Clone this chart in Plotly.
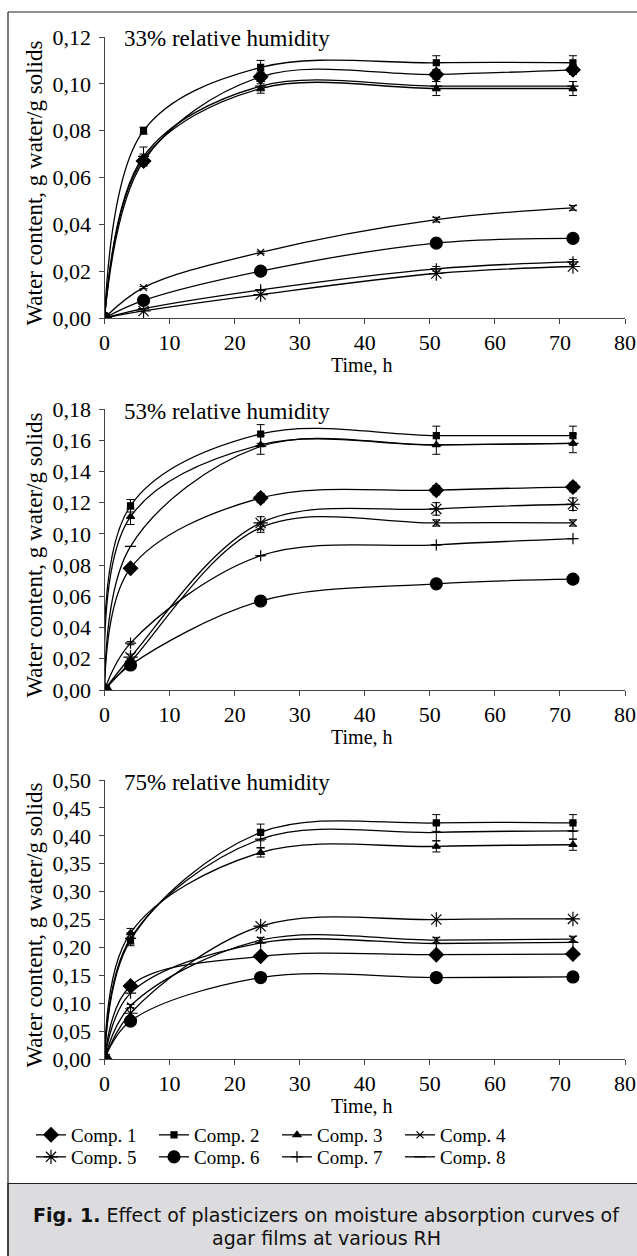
import plotly.graph_objects as go

W, H = 637, 1256

comps = ["Comp. 1", "Comp. 2", "Comp. 3", "Comp. 4", "Comp. 5", "Comp. 6", "Comp. 7", "Comp. 8"]

# ---- 33% RH ----
t33 = [0, 6, 24, 51, 72]
rh33 = [
    [0, 0.067, 0.103, 0.104, 0.106],
    [0, 0.080, 0.107, 0.109, 0.109],
    [0, 0.068, 0.098, 0.098, 0.098],
    [0, 0.013, 0.028, 0.042, 0.047],
    [0, 0.003, 0.010, 0.019, 0.022],
    [0, 0.0075, 0.020, 0.032, 0.034],
    [0, 0.004, 0.012, 0.021, 0.024],
    [0, 0.069, 0.099, 0.099, 0.099],
]
err33 = [
    [0, 0.002, 0.002, 0.002, 0.002],
    [0, 0.0015, 0.003, 0.003, 0.003],
    [0, 0.002, 0.002, 0.003, 0.003],
    [0, 0.0005, 0.0005, 0.001, 0.001],
    [0, 0, 0, 0, 0],
    [0, 0, 0, 0, 0],
    [0, 0, 0, 0.001, 0.001],
    [0, 0.004, 0.002, 0.002, 0.002],
]

# ---- 53% RH ----
t53 = [0, 4, 24, 51, 72]
rh53 = [
    [0, 0.078, 0.123, 0.128, 0.130],
    [0, 0.118, 0.164, 0.163, 0.163],
    [0, 0.111, 0.157, 0.157, 0.158],
    [0, 0.018, 0.104, 0.107, 0.107],
    [0, 0.021, 0.107, 0.116, 0.119],
    [0, 0.016, 0.057, 0.068, 0.071],
    [0, 0.030, 0.086, 0.093, 0.097],
    [0, 0.092, 0.156, 0.157, 0.158],
]
err53 = [
    [0, 0.002, 0.003, 0.003, 0.003],
    [0, 0.004, 0.006, 0.006, 0.006],
    [0, 0.005, 0.006, 0.006, 0.006],
    [0, 0.002, 0.003, 0.002, 0.002],
    [0, 0.002, 0.004, 0.004, 0.004],
    [0, 0, 0, 0, 0],
    [0, 0.001, 0, 0, 0],
    [0, 0, 0, 0, 0],
]

# ---- 75% RH ----
t75 = [0, 4, 24, 51, 72]
rh75 = [
    [0, 0.131, 0.184, 0.187, 0.188],
    [0, 0.213, 0.406, 0.423, 0.423],
    [0, 0.226, 0.370, 0.381, 0.384],
    [0, 0.095, 0.213, 0.213, 0.215],
    [0, 0.082, 0.238, 0.250, 0.251],
    [0, 0.068, 0.146, 0.146, 0.147],
    [0, 0.118, 0.208, 0.207, 0.209],
    [0, 0.216, 0.394, 0.406, 0.409],
]
err75 = [
    [0, 0.003, 0.003, 0.003, 0.003],
    [0, 0.010, 0.015, 0.015, 0.015],
    [0, 0.008, 0.008, 0.010, 0.010],
    [0, 0.003, 0.005, 0.005, 0.005],
    [0, 0, 0, 0, 0],
    [0, 0, 0, 0, 0],
    [0, 0, 0, 0, 0],
    [0, 0.010, 0.015, 0.015, 0.015],
]

panel_titles = ["33% relative humidity", "53% relative humidity", "75% relative humidity"]
y_ranges = [0.12, 0.18, 0.50]
y_dticks = [0.02, 0.02, 0.05]
x_ticks = [0, 10, 20, 30, 40, 50, 60, 70, 80]

symbols = ["diamond", "square", "triangle-up", "x-thin-open", "asterisk-open",
           "circle", "cross-thin-open", "line-ew-open"]
sizes = [11, 6, 7, 7, 12, 12, 8, 8]

SERIF = "Liberation Serif, Times New Roman, serif"

# pixel geometry of the panels (x0, x1 of axis; y of top value, y of zero)
X0, X1 = 104.5, 625
panels_px = [(37, 318), (409, 690), (780, 1059)]

def px(x):
    return x / W

def py(y):
    return 1 - y / H

fig = go.Figure()

datasets = [(t33, rh33, err33), (t53, rh53, err53), (t75, rh75, err75)]
for p, (tt, vals, errs) in enumerate(datasets):
    ax = "" if p == 0 else str(p + 1)
    for i, name in enumerate(comps):
        has_err = any(e > 0 for e in errs[i])
        fig.add_trace(go.Scatter(
            x=tt, y=vals[i], name=name, mode="lines+markers",
            line=dict(color="black", width=1.3, shape="spline", smoothing=1.0),
            marker=dict(symbol=symbols[i], size=sizes[i], color="black",
                        line=dict(color="black", width=1.2)),
            error_y=dict(type="data", array=errs[i], visible=has_err,
                         color="black", thickness=1, width=4),
            xaxis="x" + ax, yaxis="y" + ax,
            showlegend=(p == 0),
            legend="legend" if i < 4 else "legend2",
        ))

layout = dict(
    width=W, height=H, margin=dict(l=0, r=0, t=0, b=0, autoexpand=False),
    paper_bgcolor="white", plot_bgcolor="white",
    font=dict(family=SERIF, size=20, color="black"),
)

annotations = []
for p in range(3):
    ytop, y0 = panels_px[p]
    ax = "" if p == 0 else str(p + 1)
    layout["xaxis" + ax] = dict(
        domain=[px(X0), px(X1)], range=[0, 80], tickvals=x_ticks,
        anchor="y" + ax, showline=True, linecolor="#444", linewidth=1,
        ticks="outside", ticklen=5, tickcolor="#444", showgrid=False, zeroline=False,
        tickfont=dict(family=SERIF, size=22, color="black"),
    )
    layout["yaxis" + ax] = dict(
        domain=[py(y0), py(ytop)], range=[0, y_ranges[p]], dtick=y_dticks[p],
        anchor="x" + ax, showline=True, linecolor="#444", linewidth=1,
        ticks="outside", ticklen=5, tickcolor="#444", showgrid=False, zeroline=False,
        tickformat=".2f", ticklabelstandoff=3,
        tickfont=dict(family=SERIF, size=22, color="black"),
    )
    annotations.append(dict(
        text=panel_titles[p], x=px(122), y=py(ytop + 2), xref="paper", yref="paper",
        xanchor="left", yanchor="middle", showarrow=False,
        font=dict(family=SERIF, size=23, color="black")))
    annotations.append(dict(
        text="Water content, g water/g solids", x=px(34), y=py((ytop + y0) / 2 + 6),
        xref="paper", yref="paper", xanchor="center", yanchor="middle",
        textangle=-90, showarrow=False,
        font=dict(family=SERIF, size=23, color="black")))
    annotations.append(dict(
        text="Time, h", x=px(362), y=py(y0 + 47), xref="paper", yref="paper",
        xanchor="center", yanchor="middle", showarrow=False,
        font=dict(family=SERIF, size=20, color="black")))

annotations.append(dict(
    text="<b>Fig. 1.</b> Effect of plasticizers on moisture absorption curves of",
    x=px(326), y=py(1215), xref="paper", yref="paper", xanchor="center", yanchor="middle",
    showarrow=False, font=dict(family="DejaVu Sans", size=19, color="#111")))
annotations.append(dict(
    text="agar films at various RH",
    x=px(326), y=py(1238), xref="paper", yref="paper", xanchor="center", yanchor="middle",
    showarrow=False, font=dict(family="DejaVu Sans", size=19, color="#111")))

layout["annotations"] = annotations
layout["separators"] = ", "

leg_common = dict(orientation="h", xanchor="left", yanchor="top",
                  entrywidth=78, entrywidthmode="pixels",
                  font=dict(family=SERIF, size=19, color="black"),
                  bgcolor="rgba(0,0,0,0)", borderwidth=0, itemwidth=30,
                  tracegroupgap=0)
layout["legend"] = dict(leg_common, x=px(31), y=py(1116))
layout["legend2"] = dict(leg_common, x=px(31), y=py(1138))

layout["shapes"] = [
    dict(type="rect", xref="paper", yref="paper", x0=px(8), x1=1.01, y0=-0.01, y1=py(1183.5),
         fillcolor="#dcdcde", line=dict(color="#222", width=1.2), layer="below"),
    dict(type="line", xref="paper", yref="paper", x0=px(8), x1=1.0, y0=py(12), y1=py(12),
         line=dict(color="#222", width=1.2)),
    dict(type="line", xref="paper", yref="paper", x0=px(8), x1=px(8), y0=0, y1=py(12),
         line=dict(color="#222", width=1.2)),
]

fig.update_layout(layout)
fig.write_html("out.html", config={"displayModeBar": False},
               post_script="document.body.style.margin='0';")
